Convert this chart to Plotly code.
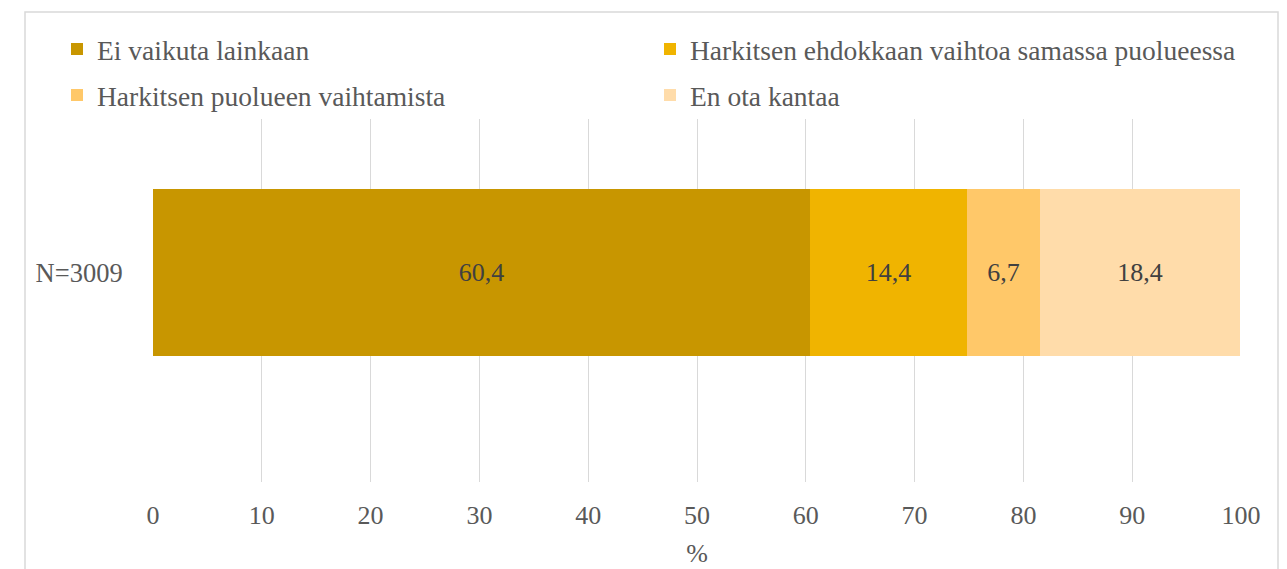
import plotly.graph_objects as go

categories = ["N=3009"]
series_names = [
    "Ei vaikuta lainkaan",
    "Harkitsen ehdokkaan vaihtoa samassa puolueessa",
    "Harkitsen puolueen vaihtamista",
    "En ota kantaa",
]
series_values = [[60.4], [14.4], [6.7], [18.4]]
series_colors = ["#C89600", "#F0B400", "#FFC869", "#FFDCAA"]
legend_ids = ["legend", "legend", "legend2", "legend2"]
x_ticks = list(range(0, 101, 10))

FONT = "Liberation Serif, Times New Roman, Times, serif"

fig = go.Figure()
for name, vals, col, lg in zip(series_names, series_values, series_colors, legend_ids):
    fig.add_trace(go.Bar(
        y=categories, x=vals, name=name, orientation="h",
        marker=dict(color=col, line=dict(width=0)),
        texttemplate="%{x:.1f}", textposition="inside", insidetextanchor="middle",
        textfont=dict(family=FONT, size=26, color="#404040"),
        width=1, legend=lg,
    ))

W, H = 1287, 569
L, R, T, B = 153, 46, 119, 87
pw, ph = W - L - R, H - T - B

def px_x(p):
    return (p - L) / pw

def px_y(p):
    return (H - B - p) / ph

leg_common = dict(
    orientation="h", xanchor="left", yanchor="middle", traceorder="normal",
    font=dict(family=FONT, size=27.5, color="#595959"),
    entrywidth=548, entrywidthmode="pixels",
    bgcolor="rgba(0,0,0,0)", itemclick=False,
)

fig.update_layout(
    width=W, height=H,
    margin=dict(l=L, r=R, t=T, b=B, autoexpand=False),
    barmode="stack",
    bargap=0,
    separators=", ",
    font=dict(family=FONT),
    plot_bgcolor="white", paper_bgcolor="white",
    showlegend=True,
    legend=dict(x=px_x(57), y=px_y(49), **leg_common),
    legend2=dict(x=px_x(57), y=px_y(95), **leg_common),
    xaxis=dict(
        range=[0, 100], tickvals=x_ticks, showgrid=True, gridcolor="#D9D9D9", gridwidth=1,
        zeroline=False, showline=False, automargin=False,
        ticks="outside", ticklen=10, tickcolor="rgba(0,0,0,0)",
        tickfont=dict(family=FONT, size=26, color="#595959"),
        title=dict(text="%", font=dict(family=FONT, size=26, color="#595959"), standoff=14),
        fixedrange=True,
    ),
    yaxis=dict(
        range=[-1.254, 0.919], showgrid=False, zeroline=False, showline=False, automargin=False,
        ticks="outside", ticklen=24, tickcolor="rgba(0,0,0,0)",
        tickfont=dict(family=FONT, size=26.5, color="#595959"),
        fixedrange=True,
    ),
    shapes=[dict(
        type="rect", xref="paper", yref="paper",
        x0=px_x(25), x1=px_x(1278), y0=px_y(600), y1=px_y(12),
        line=dict(color="#D9D9D9", width=1.5), fillcolor="rgba(0,0,0,0)", layer="below",
    )],
)

fig.write_html(
    "out.html",
    config={"displayModeBar": False},
    post_script="document.body.style.margin='0';document.body.style.padding='0';",
)
